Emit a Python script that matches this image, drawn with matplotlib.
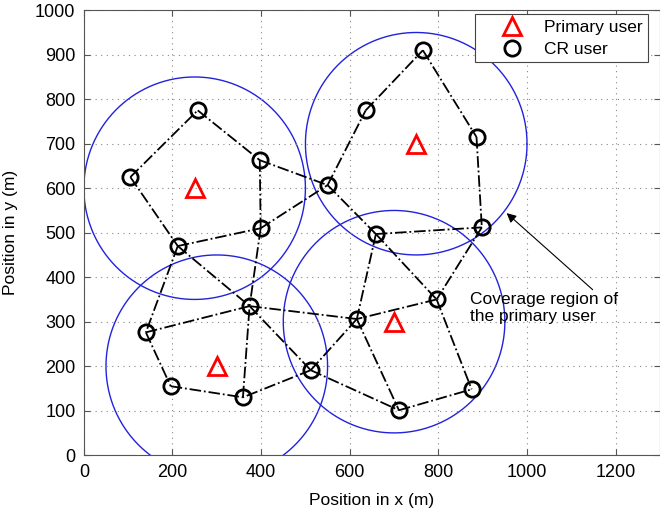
import matplotlib
matplotlib.use("Agg")
import matplotlib.pyplot as plt
import numpy as np

plt.rcParams['font.family'] = ['Liberation Sans', 'DejaVu Sans']

# primary users (also centres of the coverage circles)
pu_x = [250, 750, 300, 700]
pu_y = [600, 700, 200, 300]
coverage_r = 250

# CR users
cr_names = ['A', 'B', 'C', 'D', 'E', 'F', 'G', 'H', 'I', 'J',
            'K', 'L', 'M', 'N', 'O', 'P', 'Q', 'R', 'S', 'T']
cr_x = [105, 257, 397, 550, 399, 212, 374, 140, 196, 359,
        512, 616, 659, 636, 765, 886, 898, 796, 875, 711]
cr_y = [625, 775, 663, 607, 510, 470, 335, 276, 155, 130,
        191, 306, 497, 775, 910, 715, 512, 350, 148, 101]

# links between CR users
links = ['AB', 'BC', 'CD', 'CE', 'AF', 'FE', 'ED', 'FH', 'FG', 'EG',
         'DN', 'DM', 'NO', 'OP', 'PQ', 'MQ', 'ML', 'MR', 'QR', 'RL',
         'RS', 'LG', 'LK', 'LT', 'GK', 'KT', 'TS', 'KJ', 'HG', 'HI',
         'IJ', 'JG']

fig = plt.figure(figsize=(6.6, 5.12), dpi=100)
ax = fig.add_axes([0.127, 0.111, 0.873, 0.869])

# links
idx = {n: i for i, n in enumerate(cr_names)}
for a, b in links:
    i, j = idx[a], idx[b]
    ax.plot([cr_x[i], cr_x[j]], [cr_y[i], cr_y[j]], linestyle='-.',
            color='black', linewidth=1.3, zorder=2)

# coverage circles
t = np.linspace(0, 2 * np.pi, 400)
for cx, cy in zip(pu_x, pu_y):
    ax.plot(cx + coverage_r * np.cos(t), cy + coverage_r * np.sin(t),
            color='#2222dd', linewidth=1.0, zorder=1)

ax.plot(pu_x, pu_y, linestyle='none', marker='^', markersize=13,
        markerfacecolor='none', markeredgecolor='red', markeredgewidth=2,
        label='Primary user', zorder=3)
ax.plot(cr_x, cr_y, linestyle='none', marker='o', markersize=11,
        markerfacecolor='none', markeredgecolor='black', markeredgewidth=2,
        label='CR user', zorder=3)

ax.annotate('Coverage region of\nthe primary user', xy=(954, 544),
            xytext=(871, 330), fontsize=12.5, va='center', ha='left',
            linespacing=1.15,
            arrowprops=dict(arrowstyle='-|>', color='black', lw=0.8,
                            mutation_scale=14, shrinkA=0, shrinkB=0,
                            relpos=(0.85, 1.0)))

ax.set_xlim(0, 1300)
ax.set_ylim(0, 1000)
ax.set_xticks(range(0, 1201, 200))
ax.set_yticks(range(0, 1001, 100))
ax.tick_params(direction='in', labelsize=13, top=True, right=True,
               length=4, color='#555555', pad=6)
ax.grid(True, linestyle=(0, (1, 4)), color='#888888', linewidth=0.8)
for s in ax.spines.values():
    s.set_color('#555555')
ax.set_xlabel('Position in x (m)', fontsize=12.5, labelpad=9)
ax.set_ylabel('Position in y (m)', fontsize=12.5, labelpad=12)

leg = ax.legend(loc='upper right', bbox_to_anchor=(0.979, 0.991), fontsize=12.5,
                fancybox=False, edgecolor='#444444', framealpha=1,
                borderpad=0.3, labelspacing=0.4, handletextpad=0.05,
                handlelength=3.6, borderaxespad=0)
leg.get_frame().set_linewidth(0.8)

fig.savefig('out.png', dpi=100)
